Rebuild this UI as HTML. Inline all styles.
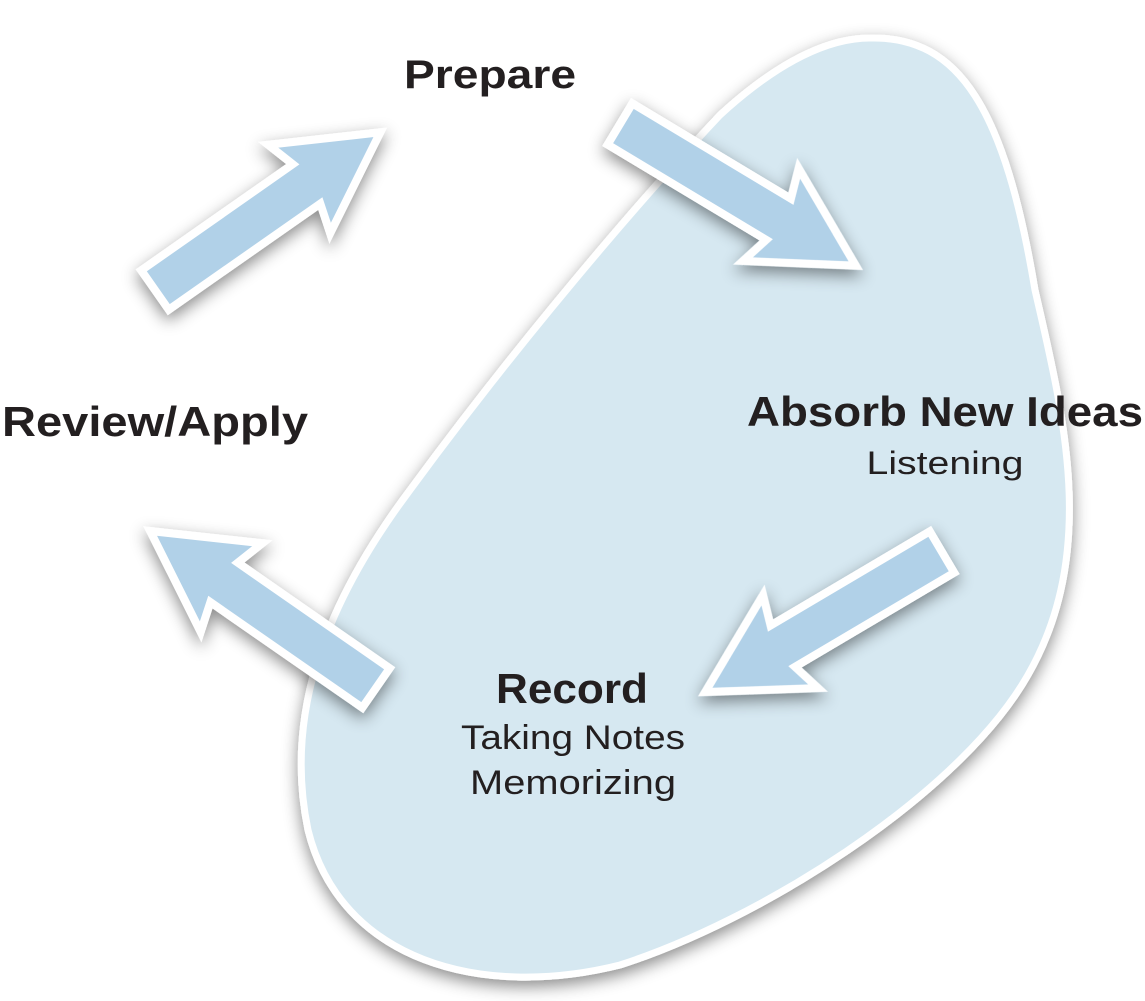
<!DOCTYPE html>
<html><head><meta charset="utf-8"><style>
html,body{margin:0;padding:0;background:#fff;}
svg{display:block}
</style></head><body>
<svg width="1145" height="1001" viewBox="0 0 1145 1001" xmlns="http://www.w3.org/2000/svg">
<defs>
<filter id="sh" x="-20%" y="-20%" width="140%" height="140%">
<feDropShadow dx="0" dy="6" stdDeviation="8" flood-color="#000" flood-opacity="0.45"/>
</filter>
<g id="arr"><polygon points="0,-24 185,-24 176,-54 275,0 176,54 185,24 0,24" fill="#b1d1e8" stroke="#fff" stroke-width="8" stroke-linejoin="miter"/></g>
</defs>
<path d="M870,38 C960,36 1005,110 1035,290 C1065,420 1100,560 1022,685 C950,800 760,920 620,965 C480,1000 340,960 308,830 C285,720 320,610 410,490 C520,340 640,200 720,115 C780,60 830,38 870,38 Z" fill="#d6e8f1" stroke="#fff" stroke-width="7" filter="url(#sh)"/>
<g filter="url(#sh)">
<use href="#arr" transform="translate(155,290) rotate(-35)"/>
<use href="#arr" transform="translate(620,124) rotate(31)"/>
<use href="#arr" transform="translate(942,552) rotate(149.4)"/>
<use href="#arr" transform="translate(376,688) rotate(214.8)"/>
</g>
<g font-family="Liberation Sans, sans-serif" fill="#231f20">
<text x="490" y="88" font-size="40" font-weight="bold" text-anchor="middle" textLength="172" lengthAdjust="spacingAndGlyphs">Prepare</text>
<text x="2" y="436" font-size="42" font-weight="bold" textLength="306" lengthAdjust="spacingAndGlyphs">Review/Apply</text>
<text x="1143" y="426" font-size="42" font-weight="bold" text-anchor="end" textLength="396" lengthAdjust="spacingAndGlyphs">Absorb New Ideas</text>
<text x="945" y="474" font-size="32" text-anchor="middle" textLength="157" lengthAdjust="spacingAndGlyphs">Listening</text>
<text x="572" y="703" font-size="42" font-weight="bold" text-anchor="middle" textLength="152" lengthAdjust="spacingAndGlyphs">Record</text>
<text x="573" y="749" font-size="34" text-anchor="middle" textLength="224" lengthAdjust="spacingAndGlyphs">Taking Notes</text>
<text x="573" y="794" font-size="34" text-anchor="middle" textLength="206" lengthAdjust="spacingAndGlyphs">Memorizing</text>
</g>
</svg>
</body></html>
